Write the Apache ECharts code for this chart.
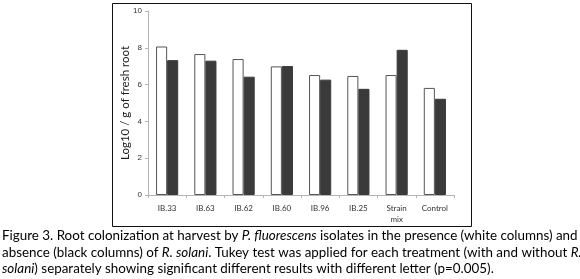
<!DOCTYPE html>
<html lang="en">
<head>
    <meta charset="UTF-8" />
    <title>Root colonization</title>
    <script src="https://cdn.jsdelivr.net/npm/echarts@6/dist/echarts.min.js"></script>
    <style>
        body { margin: 0; background: #fff; }
        #chart { width: 580px; height: 279px; }
    </style>
</head>
<body>
    <div id="chart"></div>
    <script>
        // treatments
        var categories = ["IB.33", "IB.63", "IB.62", "IB.60", "IB.96", "IB.25", "Strain\nmix", "Control"];
        // with R. solani (white columns)
        var withPathogen = [8.07, 7.66, 7.39, 6.99, 6.52, 6.47, 6.52, 5.82];
        // without R. solani (black columns)
        var withoutPathogen = [7.33, 7.30, 6.43, 7.01, 6.27, 5.77, 7.89, 5.23];
        var yTicks = [0, 2, 4, 6, 8, 10];

        var capFont = "Lato, 'Open Sans', sans-serif";
        var capSize = 13.4;
        var capRich = {
            n: { fontFamily: capFont, fontSize: capSize, fill: "#000" },
            i: { fontFamily: capFont, fontSize: capSize, fontStyle: "italic", fill: "#000" }
        };
        function captionLine(txt, y) {
            return {
                type: "text",
                left: 2,
                top: y,
                style: { text: txt, rich: capRich, font: capSize + "px " + capFont, fill: "#000" }
            };
        }

        var chart = echarts.init(document.getElementById("chart"));

        var option = {
            animation: false,
            grid: { left: 148, right: 126, top: 11, bottom: 84 },
            xAxis: {
                type: "category",
                data: categories,
                axisLine: { lineStyle: { color: "#b5b5b5", width: 1 } },
                axisTick: { show: true, length: 3, lineStyle: { color: "#b5b5b5" } },
                axisLabel: {
                    color: "#333",
                    fontSize: 8,
                    fontFamily: capFont,
                    margin: 8,
                    lineHeight: 11,
                    interval: 0
                }
            },
            yAxis: {
                type: "value",
                min: yTicks[0],
                max: yTicks[yTicks.length - 1],
                interval: 2,
                name: "Log10 / g of fresh root",
                nameLocation: "middle",
                nameGap: 17,
                nameMoveOverlap: false,
                nameTextStyle: { fontSize: 11.5, color: "#222", fontFamily: capFont },
                axisLine: { show: true, lineStyle: { color: "#b5b5b5", width: 1 } },
                axisTick: { show: true, length: 3, lineStyle: { color: "#b5b5b5" } },
                axisLabel: {
                    color: "#333",
                    fontSize: 8,
                    margin: 6,
                    fontFamily: "'Liberation Sans', Arial, sans-serif"
                },
                splitLine: { show: false }
            },
            series: [
                {
                    name: "with R. solani",
                    type: "bar",
                    data: withPathogen,
                    barGap: "0%",
                    barCategoryGap: "42%",
                    itemStyle: { color: "#ffffff", borderColor: "#555", borderWidth: 1 }
                },
                {
                    name: "without R. solani",
                    type: "bar",
                    data: withoutPathogen,
                    itemStyle: { color: "#3a3a3a", borderColor: "#3a3a3a", borderWidth: 1 }
                }
            ],
            graphic: [
                {
                    type: "rect",
                    shape: { x: 112.5, y: 3.5, width: 359, height: 223 },
                    style: { fill: null, stroke: "#111", lineWidth: 1 },
                    silent: true
                },
                captionLine("{n|Figure 3. Root colonization at harvest by }{i|P. fluorescens}{n| isolates in the presence (white columns) and}", 229),
                captionLine("{n|absence (black columns) of }{i|R. solani}{n|. Tukey test was applied for each treatment (with and without }{i|R.}", 246),
                captionLine("{i|solani}{n|) separately showing significant different results with different letter (p=0.005).}", 262)
            ]
        };

        chart.setOption(option);
    </script>
</body>
</html>
